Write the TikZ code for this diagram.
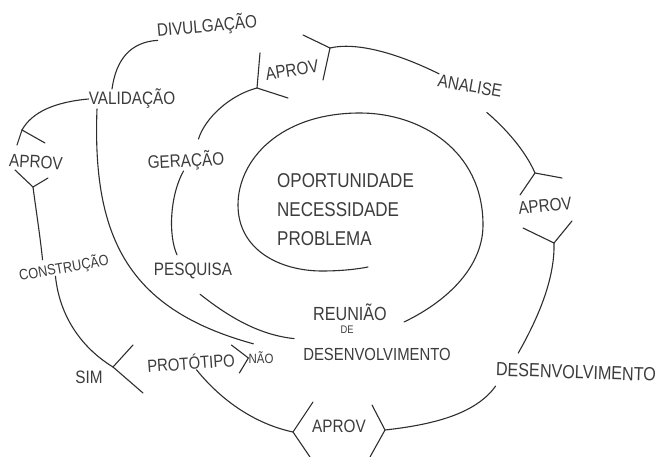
\documentclass[tikz,border=0pt]{standalone}
\usepackage{fontspec}
\usepackage{xcolor}
\newfontfamily\HandFont[FakeStretch=0.85]{Liberation Sans}
\definecolor{PencilGrey}{HTML}{3C3C3C}
\definecolor{InkGrey}{HTML}{2E2E2E}
\newcommand{\HandSize}[1]{\fontsize{#1}{#1}\selectfont}

\begin{document}
\begin{tikzpicture}[x=1pt, y=-1pt,
  pen/.style={InkGrey, line width=1.1pt, line cap=round},
  word/.style={text=PencilGrey, inner sep=0pt, font=\HandFont\HandSize{18pt}}]
  \fill[white] (0,0) rectangle (659,457);
  \useasboundingbox (0,0) rectangle (659,457);
  % hand lettered stages
  \node[word, rotate=5] (divulg) at (207,26) {DIVULGAÇÃO};
  \node[word] (valid) at (132,99) {VALIDAÇÃO};
  \node[word, rotate=9] (aprovT) at (292,70) {APROV};
  \node[word, rotate=-10] (analise) at (470,86) {ANALISE};
  \node[word, rotate=3] (gerac) at (186,161) {GERAÇÃO};
  \node[word, rotate=-3] (aprovL) at (36,162) {APROV};
  \node[word, rotate=10, font=\HandFont\HandSize{15pt}] (constr) at (64,268) {CONSTRUÇÃO};
  \node[word] (pesq) at (193,271) {PESQUISA};
  \node[word, rotate=6] (aprovR) at (545,206) {APROV};
  \node[word, rotate=-2, font=\HandFont\HandSize{19pt}] (desenvB) at (576,372) {DESENVOLVIMENTO};
  \node[word] (sim) at (89,377) {SIM};
  \node[word, rotate=4, font=\HandFont\HandSize{17.5pt}] (prot) at (191,362) {PROTÓTIPO};
  \node[word, font=\HandFont\HandSize{13.5pt}] (nao) at (261,358) {NÃO};
  \node[word] (aprovB) at (339,426) {APROV};
  % the core of the spiral
  \node[word, align=left, anchor=north west, font=\HandFont\fontsize{20pt}{29pt}\selectfont]
    (issue) at (277,173) {OPORTUNIDADE\\NECESSIDADE\\PROBLEMA};
  \node[word, font=\HandFont\HandSize{19pt}] (reun) at (350,312) {REUNIÃO};
  \node[word, font=\HandFont\HandSize{11pt}] (reunDe) at (347,330) {DE};
  \node[word, font=\HandFont\HandSize{17.5pt}] (reunDes) at (377,354) {DESENVOLVIMENTO};
  % where the approval brackets meet the spiral
  \coordinate (jTl) at (257,88);
  \coordinate (jTr) at (330,48);
  \coordinate (jRt) at (535,173);
  \coordinate (jRb) at (554,243);
  \coordinate (jBr) at (385,430);
  \coordinate (jBl) at (293,432);
  \coordinate (jLt) at (22,130);
  \coordinate (jLb) at (33,187);
  \coordinate (jSim) at (113,367);
  \foreach \j/\ax/\ay/\bx/\by in {jTl/3/-35/31/10, jTr/-27/-13/-7/32, jRt/27/5/-15/22,
      jRb/-31/-15/18/-22, jBr/-13/-25/-15/27, jBl/20/-30/17/25, jLt/-5/15/23/13,
      jLb/-18/-17/15/-9, jSim/20/-22/30/26}
    \draw[pen] (\j) ++(\ax,\ay) -- (\j) -- ++(\bx,\by);
  \draw[pen] (nao.west) ++(-17,-13) -- (nao.west) -- ++(-9,15);
  % inner turn, from the meeting round to the problem
  \draw[pen] ([xshift=17pt,yshift=-10pt]reun.east) .. controls (450,300) and (483,265) .. (483,225)
    .. controls (483,150) and (420,113) .. (360,113)
    .. controls (280,113) and (238,160) .. (238,205)
    .. controls (238,250) and (280,271) .. (322,271)
    .. controls (342,271) and (358,269) .. (368,267);
  \draw[pen] ([xshift=7pt,yshift=-15pt]pesq.south) .. controls (230,318) and (260,335)
    .. ([xshift=-9pt,yshift=9pt]reunDes.north west);
  \draw[pen] ([xshift=-3pt]gerac.south) .. controls (170,195) and (168,235)
    .. ([xshift=-16pt,yshift=8pt]pesq.north);
  \draw[pen] (jTl) .. controls (230,95) and (205,118) .. ([xshift=13pt,yshift=12pt]gerac.north);
  % outer turn
  \draw[pen] (analise.north west) .. controls (395,52) and (355,42) .. (jTr);
  \draw[pen] (jRt) .. controls (525,150) and (505,128) .. ([xshift=18pt,yshift=-20pt]analise.south);
  \draw[pen] ([xshift=-58pt,yshift=12pt]desenvB.north) .. controls (537,320) and (555,280) .. (jRb);
  \draw[pen] (jBr) .. controls (430,425) and (475,415) .. ([yshift=-10pt]desenvB.south west);
  \draw[pen] ([xshift=5pt]prot.south) .. controls (225,405) and (260,425) .. (jBl);
  \draw[pen] ([xshift=-10pt]constr.south) .. controls (60,320) and (85,350) .. (jSim);
  \draw[pen] (jLb) .. controls (36,210) and (40,235) .. ([xshift=-20pt]constr.north);
  \draw[pen] (valid.west) .. controls (55,102) and (32,112) .. (jLt);
  \draw[pen] ([xshift=-35pt]valid.south) .. controls (92,240) and (130,310)
    .. ([xshift=5pt,yshift=8pt]nao.north west);
  \draw[pen] (divulg.south west) .. controls (130,42) and (116,60) .. ([xshift=-20pt]valid.north);
\end{tikzpicture}
\end{document}
